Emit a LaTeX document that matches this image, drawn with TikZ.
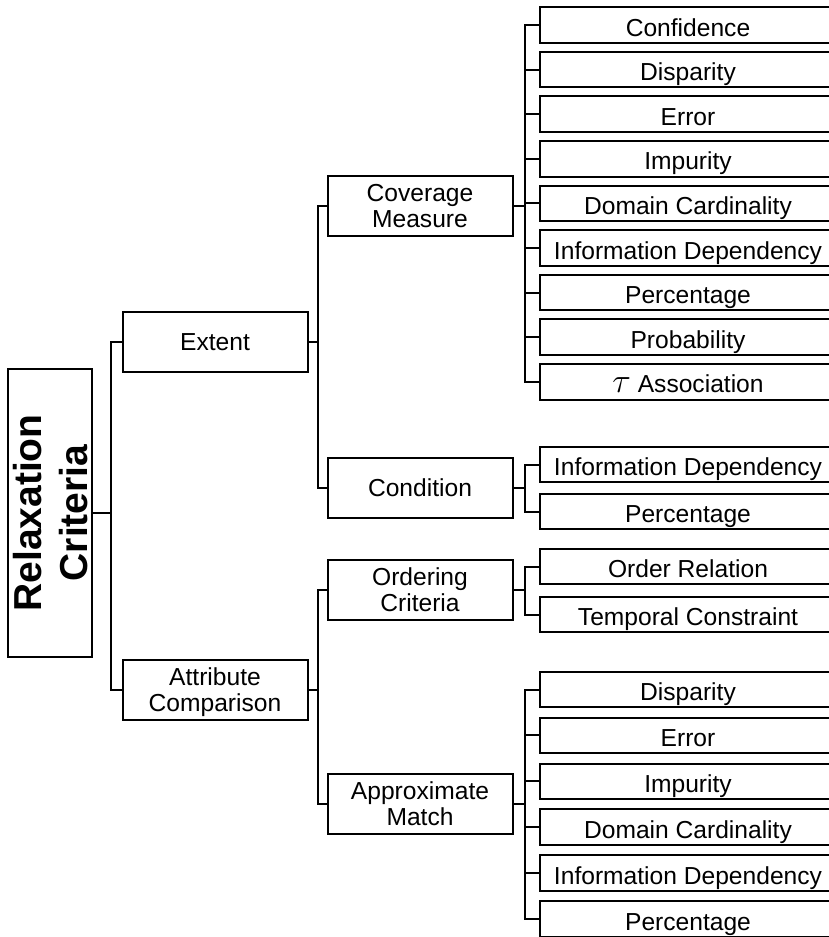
\documentclass[tikz,border=0pt]{standalone}
\usepackage{fontspec}
\setmainfont{Liberation Sans}
\tikzset{
  rootbox/.style={rectangle, rotate=90, minimum width=144pt, minimum height=42pt, inner sep=0pt, align=center, text depth=0pt, draw=black, line width=1pt, font=\fontsize{19.5}{23}\selectfont\bfseries},
  branch/.style={rectangle, minimum width=92.5pt, minimum height=30pt, inner sep=0pt, align=center, text depth=0pt, draw=black, line width=1pt, font=\fontsize{12.3}{13}\selectfont},
  leaf/.style={rectangle, minimum width=148pt, minimum height=17.75pt, inner sep=0pt, text height=13pt, text depth=2pt, draw=black, line width=1pt, font=\fontsize{12.3}{13}\selectfont},
  link/.style={line width=1pt}
}

\begin{document}
\begin{tikzpicture}[x=0.5pt, y=-0.5pt, node distance=22.3pt]
        \useasboundingbox (0,0) rectangle (829,937);

        % Raiz y primer nivel
        \node (relax) [rootbox] at (50,513) {Relaxation\\Criteria};
        \node (extent) [branch] at (215,342) {Extent};
        \node (attrcomp) [branch] at (215,690) {Attribute\\Comparison};

        % Segundo nivel
        \node (coverage) [branch] at (420,205.5) {Coverage\\Measure};
        \node (condition) [branch] at (420,488) {Condition};
        \node (ordering) [branch] at (420,590) {Ordering\\Criteria};
        \node (approx) [branch] at (420,804) {Approximate\\Match};

        % Hojas: Coverage Measure
        \node (cvconf) [leaf] at (688,25) {Confidence};
        \node (cvdisp) [leaf, below of=cvconf] {Disparity};
        \node (cverr) [leaf, below of=cvdisp] {Error};
        \node (cvimp) [leaf, below of=cverr] {Impurity};
        \node (cvdom) [leaf, below of=cvimp] {Domain Cardinality};
        \node (cvinfo) [leaf, below of=cvdom] {Information Dependency};
        \node (cvperc) [leaf, below of=cvinfo] {Percentage};
        \node (cvprob) [leaf, below of=cvperc] {Probability};
        \node (cvtau) [leaf, below of=cvprob] {{\fontsize{17}{17}\selectfont$\tau$} Association};

        % Hojas: Condition
        \node (cdinfo) [leaf] at (688,464.5) {Information Dependency};
        \node (cdperc) [leaf, below of=cdinfo, yshift=-1.2pt] {Percentage};

        % Hojas: Ordering Criteria
        \node (ordrel) [leaf] at (688,566.5) {Order Relation};
        \node (ordtemp) [leaf, below of=ordrel, yshift=-1.7pt] {Temporal Constraint};

        % Hojas: Approximate Match
        \begin{scope}[node distance=22.95pt]
        \node (apdisp) [leaf] at (688,689.5) {Disparity};
        \node (aperr) [leaf, below of=apdisp] {Error};
        \node (apimp) [leaf, below of=aperr] {Impurity};
        \node (apdom) [leaf, below of=apimp] {Domain Cardinality};
        \node (apinfo) [leaf, below of=apdom] {Information Dependency};
        \node (apperc) [leaf, below of=apinfo] {Percentage};
        \end{scope}

        % Conectores
        \draw [link] (relax.south) -- ++(18,0) |- (extent.west);
        \draw [link] (relax.south) -- ++(18,0) |- (attrcomp.west);
        \draw [link] (extent.east) -- ++(9,0) |- (coverage.west);
        \draw [link] (extent.east) -- ++(9,0) |- (condition.west);
        \draw [link] (attrcomp.east) -- ++(9,0) |- (ordering.west);
        \draw [link] (attrcomp.east) -- ++(9,0) |- (approx.west);

        \draw [link] (coverage.east) -- ++(11,0) |- (cvconf.west);
        \draw [link] (coverage.east) -- ++(11,0) |- (cvdisp.west);
        \draw [link] (coverage.east) -- ++(11,0) |- (cverr.west);
        \draw [link] (coverage.east) -- ++(11,0) |- (cvimp.west);
        \draw [link] (coverage.east) -- ++(11,0) |- (cvdom.west);
        \draw [link] (coverage.east) -- ++(11,0) |- (cvinfo.west);
        \draw [link] (coverage.east) -- ++(11,0) |- (cvperc.west);
        \draw [link] (coverage.east) -- ++(11,0) |- (cvprob.west);
        \draw [link] (coverage.east) -- ++(11,0) |- (cvtau.west);

        \draw [link] (condition.east) -- ++(11,0) |- (cdinfo.west);
        \draw [link] (condition.east) -- ++(11,0) |- (cdperc.west);

        \draw [link] (ordering.east) -- ++(11,0) |- (ordrel.west);
        \draw [link] (ordering.east) -- ++(11,0) |- (ordtemp.west);

        \draw [link] (approx.east) -- ++(11,0) |- (apdisp.west);
        \draw [link] (approx.east) -- ++(11,0) |- (aperr.west);
        \draw [link] (approx.east) -- ++(11,0) |- (apimp.west);
        \draw [link] (approx.east) -- ++(11,0) |- (apdom.west);
        \draw [link] (approx.east) -- ++(11,0) |- (apinfo.west);
        \draw [link] (approx.east) -- ++(11,0) |- (apperc.west);
\end{tikzpicture}
\end{document}
